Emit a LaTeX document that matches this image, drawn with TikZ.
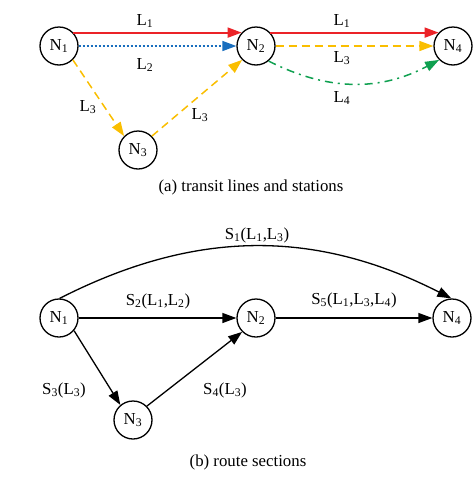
\documentclass[tikz,border=0pt]{standalone}
\usepackage{fontspec}
\setmainfont{Liberation Serif}
\usetikzlibrary{arrows.meta}
\definecolor{lred}{RGB}{235,35,40}
\definecolor{lblue}{RGB}{25,110,190}
\definecolor{lyellow}{RGB}{250,190,0}
\definecolor{lgreen}{RGB}{15,160,80}
\newcommand\sbs[1]{\textsubscript{#1}}
\tikzset{
  station/.style={circle,draw=black,line width=1.3pt,minimum size=38pt,inner sep=0pt,fill=white},
  lbl/.style={inner sep=0pt},
  tri/.style={-{Triangle[length=14pt,width=10pt]}},
  redline/.style={tri,draw=lred,line width=1.8pt},
  blueline/.style={tri,draw=lblue,line width=1.5pt,dash pattern=on 2pt off 2pt},
  yellowline/.style={tri,draw=lyellow,line width=1.5pt,dash pattern=on 8pt off 5pt},
  greenline/.style={tri,draw=lgreen,line width=1.5pt,dash pattern=on 8pt off 5pt on 2pt off 5pt},
  blackline/.style={tri,draw=black,line width=1.3pt},
}
\begin{document}
\begin{tikzpicture}[x=1pt,y=1pt,font=\fontsize{16.8}{20}\selectfont]
\useasboundingbox (0,0) rectangle (474,-480);
% ---------- (a) ----------
\node[station] (a1) at (59,-46) {N\sbs{1}};
\node[station] (a2) at (256,-46) {N\sbs{2}};
\node[station] (a3) at (138,-150) {N\sbs{3}};
\node[station] (a4) at (453,-46) {N\sbs{4}};
\draw[redline] (a1.43) -- (a2.137);
\draw[redline] (a2.43) -- (a4.137);
\draw[blueline] (a1) -- (a2);
\draw[yellowline] (a2) -- (a4);
\draw[yellowline] (a1.-45) -- (a3.135);
\draw[yellowline] (a3.45) -- (a2.225);
\draw[greenline] (a2.-50) to[out=-27,in=208] (a4.-135);
\node[lbl] (la1) at (145,-21) {L\sbs{1}};
\node[lbl] (la2) at (145,-65) {L\sbs{2}};
\node[lbl] (la3) at (88,-107) {L\sbs{3}};
\node[lbl] (la4) at (200,-115) {L\sbs{3}};
\node[lbl] (la5) at (342,-21) {L\sbs{1}};
\node[lbl] (la6) at (342,-58) {L\sbs{3}};
\node[lbl] (la7) at (342,-98) {L\sbs{4}};
\node[lbl] (capa) at (251,-187) {(a) transit lines and stations};
% ---------- (b) ----------
\node[station] (b1) at (59,-318) {N\sbs{1}};
\node[station] (b2) at (256,-318) {N\sbs{2}};
\node[station] (b3) at (133,-420) {N\sbs{3}};
\node[station] (b4) at (452,-318) {N\sbs{4}};
\draw[blackline] (b1.88) to[out=27,in=153] (b4.92);
\draw[blackline] (b1) -- (b2);
\draw[blackline] (b2) -- (b4);
\draw[blackline] (b1.-40) -- (b3.130);
\draw[blackline] (b3.45) -- (b2.225);
\node[lbl] (lb1) at (257,-235) {S\sbs{1}(L\sbs{1},L\sbs{3})};
\node[lbl] (lb2) at (158,-301) {S\sbs{2}(L\sbs{1},L\sbs{2})};
\node[lbl] (lb5) at (354,-300) {S\sbs{5}(L\sbs{1},L\sbs{3},L\sbs{4})};
\node[lbl] (lb3) at (64,-390) {S\sbs{3}(L\sbs{3})};
\node[lbl] (lb4) at (225,-390) {S\sbs{4}(L\sbs{3})};
\node[lbl] (capb) at (248,-462) {(b) route sections};
\end{tikzpicture}
\end{document}
